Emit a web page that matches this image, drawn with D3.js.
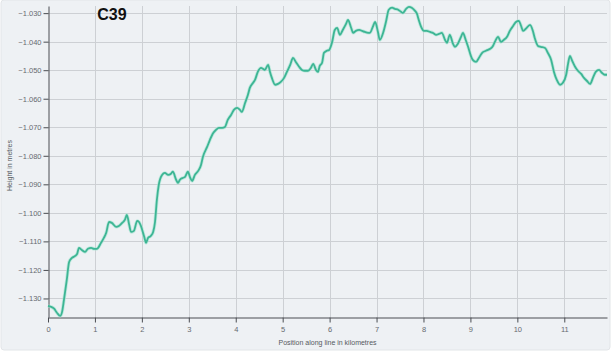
<!DOCTYPE html>
<html>
<head>
<meta charset="utf-8">
<script src="https://cdn.jsdelivr.net/npm/d3@7"></script>
<style>
  html, body { margin: 0; padding: 0; background: #ffffff; }
  svg { display: block; }
</style>
</head>
<body>
<svg id="chart" width="611" height="358"></svg>
<script>
// Elevation profile along survey line C39
const title = "C39";
const xLabel = "Position along line in kilometres";
const yLabel = "Height in metres";

const xTicks = [0, 1, 2, 3, 4, 5, 6, 7, 8, 9, 10, 11];
const yTicks = [-1.030, -1.040, -1.050, -1.060, -1.070, -1.080, -1.090, -1.100, -1.110, -1.120, -1.130];

const positionKm = [
  0.00, 0.06, 0.13, 0.19, 0.26, 0.30, 0.34, 0.40, 0.45, 0.51, 0.58, 0.62, 0.66, 0.72, 0.79, 0.85, 0.92, 0.98, 1.04, 1.13,
  1.19, 1.24, 1.30, 1.36, 1.45, 1.51, 1.58, 1.64, 1.68, 1.73, 1.77, 1.83, 1.90, 1.94, 1.98, 2.05, 2.09, 2.13, 2.19, 2.24,
  2.28, 2.32, 2.36, 2.43, 2.49, 2.56, 2.62, 2.66, 2.73, 2.77, 2.81, 2.88, 2.92, 2.98, 3.03, 3.07, 3.13, 3.20, 3.26, 3.30,
  3.39, 3.45, 3.52, 3.58, 3.64, 3.71, 3.77, 3.83, 3.90, 3.96, 4.03, 4.09, 4.13, 4.20, 4.26, 4.30, 4.37, 4.41, 4.47, 4.54,
  4.58, 4.62, 4.69, 4.73, 4.77, 4.84, 4.90, 4.96, 5.03, 5.09, 5.16, 5.22, 5.28, 5.35, 5.41, 5.47, 5.54, 5.60, 5.65, 5.71,
  5.75, 5.79, 5.84, 5.88, 5.94, 5.99, 6.05, 6.11, 6.16, 6.22, 6.28, 6.35, 6.39, 6.46, 6.50, 6.56, 6.63, 6.69, 6.75, 6.82,
  6.86, 6.92, 6.97, 7.03, 7.07, 7.14, 7.20, 7.26, 7.33, 7.39, 7.46, 7.52, 7.56, 7.63, 7.69, 7.75, 7.82, 7.86, 7.90, 7.95,
  8.01, 8.07, 8.14, 8.20, 8.27, 8.33, 8.39, 8.46, 8.50, 8.56, 8.63, 8.67, 8.73, 8.80, 8.84, 8.90, 8.95, 9.01, 9.05, 9.12,
  9.18, 9.25, 9.33, 9.42, 9.48, 9.52, 9.59, 9.65, 9.71, 9.78, 9.84, 9.91, 9.97, 10.03, 10.08, 10.12, 10.18, 10.27, 10.33, 10.37,
  10.44, 10.50, 10.59, 10.65, 10.72, 10.78, 10.84, 10.91, 10.97, 11.04, 11.08, 11.12, 11.16, 11.23, 11.29, 11.36, 11.42, 11.48, 11.55, 11.61,
  11.67, 11.74, 11.80, 11.86, 11.91
];

const heightM = [
  -1.1326, -1.1329, -1.1336, -1.1350, -1.1361, -1.1347, -1.1305, -1.1235, -1.1172, -1.1158, -1.1151, -1.1144, -1.1123, -1.1130, -1.1137, -1.1126, -1.1123, -1.1126, -1.1126, -1.1105,
  -1.1088, -1.1070, -1.1032, -1.1035, -1.1049, -1.1046, -1.1035, -1.1024, -1.1007, -1.1042, -1.1067, -1.1063, -1.1028, -1.1032, -1.1046, -1.1084, -1.1105, -1.1088, -1.1081, -1.1067,
  -1.1032, -1.0954, -1.0902, -1.0867, -1.0860, -1.0867, -1.0863, -1.0856, -1.0884, -1.0895, -1.0884, -1.0877, -1.0874, -1.0856, -1.0877, -1.0888, -1.0867, -1.0853, -1.0832, -1.0804,
  -1.0769, -1.0744, -1.0720, -1.0709, -1.0702, -1.0702, -1.0699, -1.0674, -1.0657, -1.0639, -1.0632, -1.0639, -1.0646, -1.0614, -1.0586, -1.0562, -1.0544, -1.0534, -1.0506, -1.0492,
  -1.0495, -1.0499, -1.0481, -1.0506, -1.0527, -1.0551, -1.0548, -1.0541, -1.0527, -1.0506, -1.0481, -1.0457, -1.0471, -1.0488, -1.0499, -1.0502, -1.0502, -1.0492, -1.0478, -1.0499,
  -1.0506, -1.0485, -1.0474, -1.0439, -1.0432, -1.0429, -1.0404, -1.0359, -1.0352, -1.0376, -1.0359, -1.0338, -1.0324, -1.0352, -1.0369, -1.0362, -1.0359, -1.0362, -1.0366, -1.0369,
  -1.0369, -1.0348, -1.0331, -1.0366, -1.0394, -1.0369, -1.0331, -1.0288, -1.0281, -1.0285, -1.0288, -1.0295, -1.0299, -1.0285, -1.0278, -1.0281, -1.0292, -1.0302, -1.0324, -1.0348,
  -1.0362, -1.0362, -1.0366, -1.0369, -1.0376, -1.0373, -1.0369, -1.0394, -1.0404, -1.0376, -1.0408, -1.0418, -1.0408, -1.0383, -1.0369, -1.0394, -1.0418, -1.0450, -1.0464, -1.0471,
  -1.0457, -1.0439, -1.0432, -1.0425, -1.0415, -1.0401, -1.0383, -1.0401, -1.0394, -1.0383, -1.0362, -1.0345, -1.0331, -1.0327, -1.0345, -1.0362, -1.0355, -1.0341, -1.0362, -1.0387,
  -1.0415, -1.0418, -1.0422, -1.0439, -1.0464, -1.0506, -1.0534, -1.0551, -1.0544, -1.0516, -1.0478, -1.0450, -1.0464, -1.0488, -1.0502, -1.0513, -1.0527, -1.0537, -1.0548, -1.0527,
  -1.0506, -1.0499, -1.0509, -1.0516, -1.0516
];

const svg = d3.select("#chart");
const W = 611, H = 358;
const plot = { left: 48, right: 607, top: 6, bottom: 317 };

// card background
svg.append("rect")
  .attr("x", 1).attr("y", 0).attr("width", W - 2).attr("height", 350)
  .attr("rx", 3)
  .attr("fill", "#eef1f4")
  .attr("stroke", "#e2e5e8");

const x = d3.scaleLinear().domain([0, 11.91]).range([plot.left, plot.right]);
const y = d3.scaleLinear().domain([-1.1365, -1.0275]).range([plot.bottom, plot.top]);

// grid
const grid = svg.append("g").attr("stroke", "#cdd0d4").attr("stroke-width", 1);
grid.selectAll("line.v").data(xTicks.filter(d => d > 0)).join("line")
  .attr("x1", d => Math.round(x(d)) + 0.5).attr("x2", d => Math.round(x(d)) + 0.5)
  .attr("y1", plot.top).attr("y2", plot.bottom);
grid.selectAll("line.h").data(yTicks).join("line")
  .attr("x1", plot.left).attr("x2", plot.right)
  .attr("y1", d => Math.round(y(d)) + 0.5).attr("y2", d => Math.round(y(d)) + 0.5);

// axes
const fmt = d3.format(".3f");
const yAxis = svg.append("g")
  .attr("transform", `translate(${plot.left + 0.5},0)`)
  .call(d3.axisLeft(y).tickValues(yTicks).tickFormat(d => fmt(d).replace("-", "-")).tickSize(5).tickSizeOuter(0));
const xAxis = svg.append("g")
  .attr("transform", `translate(0,${plot.bottom + 0.5})`)
  .call(d3.axisBottom(x).tickValues(xTicks).tickFormat(d3.format("d")).tickSize(5).tickSizeOuter(0));

[yAxis, xAxis].forEach(a => {
  a.select(".domain").attr("stroke", "#4a4d52");
  a.selectAll(".tick line").attr("stroke", "#4a4d52");
  a.selectAll(".tick text")
    .attr("fill", "#666a70")
    .style("font-family", "'Liberation Sans', Arial, sans-serif")
    .style("font-size", "7.5px");
});
yAxis.selectAll(".tick text").attr("x", -7);
xAxis.selectAll(".tick text").attr("y", 9);

// profile line
const pts = positionKm.map((k, i) => [k, heightM[i]]);
const line = d3.line().x(d => x(d[0])).y(d => y(d[1])).curve(d3.curveMonotoneX);
svg.append("path")
  .datum(pts)
  .attr("fill", "none")
  .attr("stroke", "#9fe3cf")
  .attr("stroke-width", 3.4)
  .attr("stroke-opacity", 0.6)
  .attr("stroke-linejoin", "round")
  .attr("d", line);
svg.append("path")
  .datum(pts)
  .attr("fill", "none")
  .attr("stroke", "#3db594")
  .attr("stroke-width", 1.8)
  .attr("stroke-linejoin", "round")
  .attr("d", line);

// titles
svg.append("text")
  .attr("x", 112).attr("y", 20)
  .attr("text-anchor", "middle")
  .style("font-family", "'Liberation Sans', Arial, sans-serif")
  .style("font-size", "16px").style("font-weight", "bold")
  .attr("fill", "#111")
  .text(title);

svg.append("text")
  .attr("x", (plot.left + plot.right) / 2).attr("y", 345)
  .attr("text-anchor", "middle")
  .style("font-family", "'Liberation Sans', Arial, sans-serif")
  .style("font-size", "7px")
  .attr("fill", "#555a60")
  .text(xLabel);

svg.append("text")
  .attr("transform", `translate(12,${(plot.top + plot.bottom) / 2 + 4}) rotate(-90)`)
  .attr("text-anchor", "middle")
  .style("font-family", "'Liberation Sans', Arial, sans-serif")
  .style("font-size", "7px")
  .attr("fill", "#555a60")
  .text(yLabel);
</script>
</body>
</html>
